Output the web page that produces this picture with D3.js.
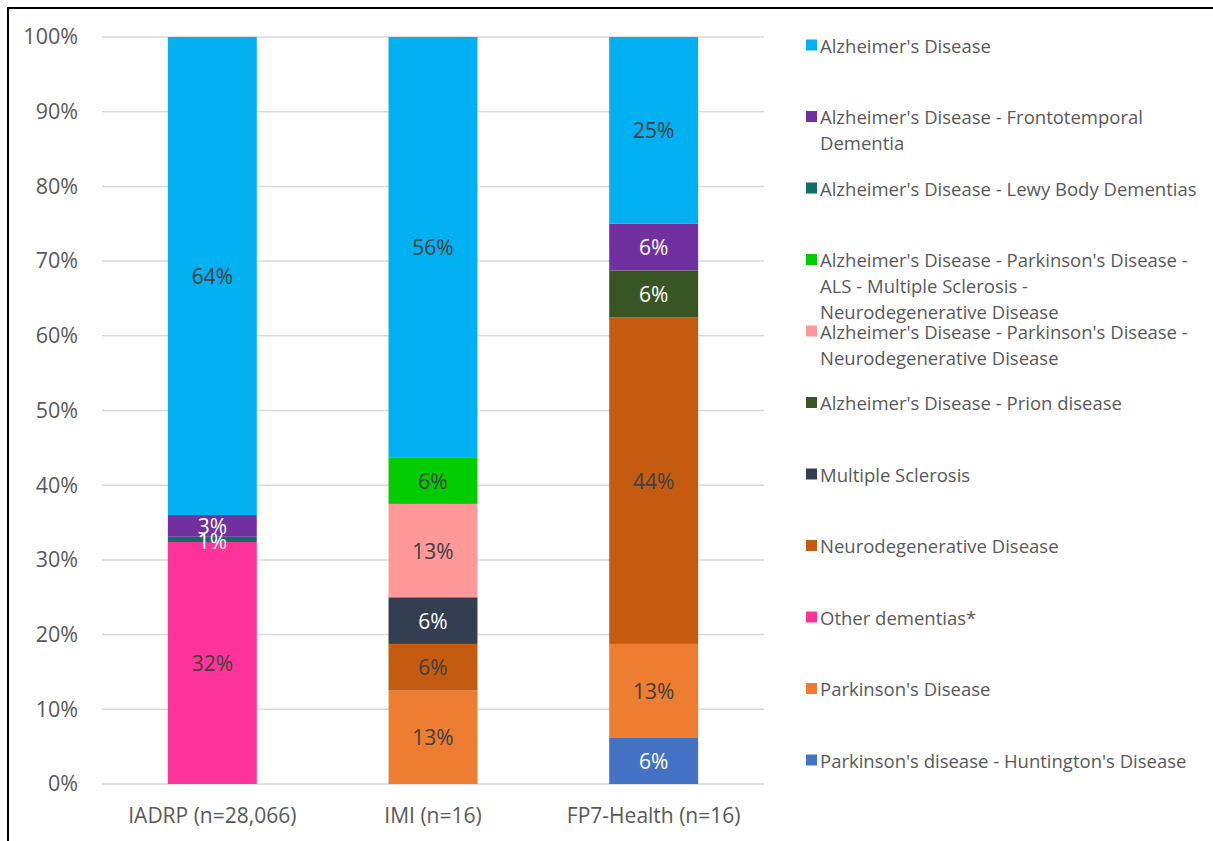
<!DOCTYPE html>
<html>
<head>
<meta charset="utf-8">
<script src="https://cdn.jsdelivr.net/npm/d3@7"></script>
<style>
  html, body { margin: 0; padding: 0; background: #fff; }
  svg { display: block; font-family: "Open Sans", "Noto Sans", sans-serif; }
</style>
</head>
<body>
<svg id="chart" width="1213" height="841"></svg>
<script>
// Programmes on the x axis
const programmes = ["IADRP (n=28,066)", "IMI (n=16)", "FP7-Health (n=16)"];

// Disease groups, legend order (top to bottom)
const diseases = [
  "Alzheimer's Disease",
  "Alzheimer's Disease - Frontotemporal Dementia",
  "Alzheimer's Disease - Lewy Body Dementias",
  "Alzheimer's Disease - Parkinson's Disease - ALS - Multiple Sclerosis - Neurodegenerative Disease",
  "Alzheimer's Disease - Parkinson's Disease - Neurodegenerative Disease",
  "Alzheimer's Disease - Prion disease",
  "Multiple Sclerosis",
  "Neurodegenerative Disease",
  "Other dementias*",
  "Parkinson's Disease",
  "Parkinson's disease - Huntington's Disease"
];

// Wrapped legend lines
const legendLines = [
  ["Alzheimer's Disease"],
  ["Alzheimer's Disease - Frontotemporal", "Dementia"],
  ["Alzheimer's Disease - Lewy Body Dementias"],
  ["Alzheimer's Disease - Parkinson's Disease -", "ALS - Multiple Sclerosis -", "Neurodegenerative Disease"],
  ["Alzheimer's Disease - Parkinson's Disease -", "Neurodegenerative Disease"],
  ["Alzheimer's Disease - Prion disease"],
  ["Multiple Sclerosis"],
  ["Neurodegenerative Disease"],
  ["Other dementias*"],
  ["Parkinson's Disease"],
  ["Parkinson's disease - Huntington's Disease"]
];

const colors = [
  "#00B0F0", "#7030A0", "#0E6E6A", "#00CC00", "#FF9999",
  "#375623", "#333F50", "#C55A11", "#FF3399", "#ED7D31", "#4472C4"
];

// Share of projects (%) per disease group, in legend order
const iadrpValues = [64.0, 2.9, 0.7, 0, 0, 0, 0, 0, 32.4, 0, 0];
const imiValues   = [56.25, 0, 0, 6.25, 12.5, 0, 6.25, 6.25, 0, 12.5, 0];
const fp7Values   = [25.0, 6.25, 0, 0, 0, 6.25, 0, 43.75, 0, 12.5, 6.25];

// Labels printed on the segments
const iadrpLabels = ["64%", "3%", "1%", "", "", "", "", "", "32%", "", ""];
const imiLabels   = ["56%", "", "", "6%", "13%", "", "6%", "6%", "", "13%", ""];
const fp7Labels   = ["25%", "6%", "", "", "", "6%", "", "44%", "", "13%", "6%"];

// Segments that carry white text
const whiteText = new Set([1, 2, 5, 6, 10]);

const yTicks = [0, 10, 20, 30, 40, 50, 60, 70, 80, 90, 100];

const seriesValues = [iadrpValues, imiValues, fp7Values];
const seriesLabels = [iadrpLabels, imiLabels, fp7Labels];

const svg = d3.select("#chart");

// outer frame
svg.append("rect")
  .attr("x", 8).attr("y", 8)
  .attr("width", 1240).attr("height", 870)
  .attr("fill", "none").attr("stroke", "#000").attr("stroke-width", 2);

const plot = { left: 102, right: 764, top: 37, bottom: 784 };

const x = d3.scaleBand()
  .domain(programmes)
  .range([plot.left, plot.right])
  .paddingInner(0.597)
  .paddingOuter(0.2985);

const y = d3.scaleLinear().domain([0, 100]).range([plot.bottom, plot.top]);

// gridlines
svg.append("g")
  .selectAll("line")
  .data(yTicks)
  .join("line")
  .attr("x1", plot.left).attr("x2", plot.right)
  .attr("y1", d => y(d)).attr("y2", d => y(d))
  .attr("stroke", "#D9D9D9").attr("stroke-width", 1.5);

// y axis labels
const yAxis = svg.append("g")
  .attr("transform", `translate(${plot.left},0)`)
  .call(d3.axisLeft(y).tickValues(yTicks).tickFormat(d => d + "%").tickSize(0).tickPadding(24));
yAxis.select(".domain").remove();
yAxis.selectAll("text")
  .attr("fill", "#595959")
  .style("font-size", "21.5px")
  .style("font-family", "'Open Sans', sans-serif");

// x axis labels
const xAxis = svg.append("g")
  .attr("transform", `translate(0,${plot.bottom})`)
  .call(d3.axisBottom(x).tickSize(0).tickPadding(24));
xAxis.select(".domain").remove();
xAxis.selectAll("text")
  .attr("fill", "#595959")
  .style("font-size", "21px")
  .style("font-family", "'Open Sans', sans-serif");

// stacked segments (stack from the last disease group upward)
const stackOrder = d3.range(diseases.length).reverse();
programmes.forEach((prog, pi) => {
  const vals = seriesValues[pi];
  let acc = 0;
  const segs = [];
  stackOrder.forEach(di => {
    const v = vals[di];
    if (v > 0) {
      segs.push({ di, y0: acc, y1: acc + v, label: seriesLabels[pi][di] });
      acc += v;
    }
  });
  const g = svg.append("g");
  g.selectAll("rect")
    .data(segs)
    .join("rect")
    .attr("x", x(prog))
    .attr("width", x.bandwidth())
    .attr("y", d => y(d.y1))
    .attr("height", d => y(d.y0) - y(d.y1))
    .attr("fill", d => colors[d.di]);
  g.selectAll("text")
    .data(segs.filter(d => d.label))
    .join("text")
    .attr("x", x(prog) + x.bandwidth() / 2)
    .attr("y", d => y((d.y0 + d.y1) / 2) + (d.di === 2 ? 2 : 0))
    .attr("text-anchor", "middle")
    .attr("dominant-baseline", "central")
    .attr("fill", d => whiteText.has(d.di) ? "#FFFFFF" : "#404040")
    .style("font-size", "21px")
    .text(d => d.label);
});

// legend
const legend = svg.append("g");
const legendTop = 45, legendStep = 71.5, lineGap = 26;
diseases.forEach((name, i) => {
  const cy = legendTop + i * legendStep;
  const item = legend.append("g");
  item.append("rect")
    .attr("x", 806).attr("y", cy - 5.5)
    .attr("width", 11).attr("height", 11)
    .attr("fill", colors[i]);
  const t = item.append("text")
    .attr("x", 820)
    .attr("fill", "#595959")
    .style("font-size", "18.5px");
  legendLines[i].forEach((ln, li) => {
    t.append("tspan")
      .attr("x", 820)
      .attr("y", cy + li * lineGap)
      .attr("dominant-baseline", "central")
      .text(ln);
  });
});
</script>
</body>
</html>
